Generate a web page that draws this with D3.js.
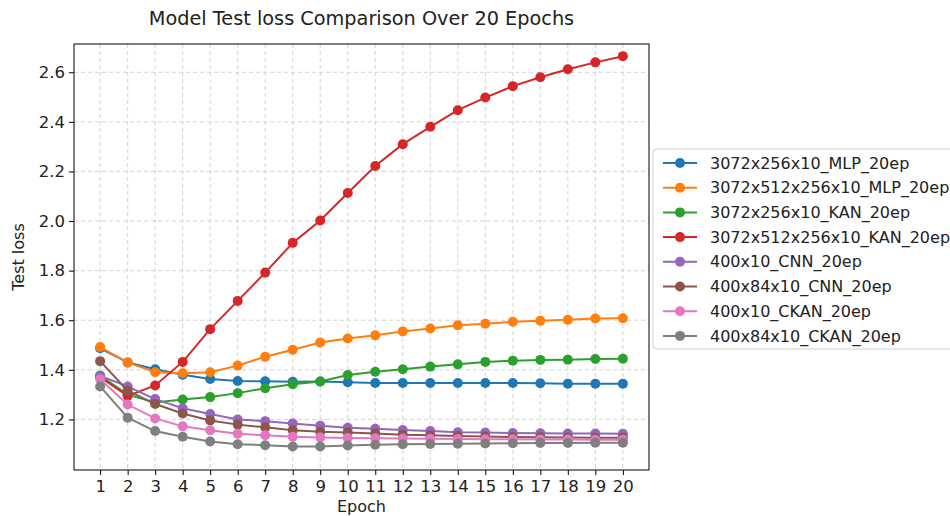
<!DOCTYPE html>
<html>
<head>
<meta charset="utf-8">
<script src="https://cdn.jsdelivr.net/npm/d3@7"></script>
<style>
  body { margin: 0; background: #fff; }
  text { font-family: "DejaVu Sans", sans-serif; fill: #222; }
</style>
</head>
<body>
<div id="plot"></div>
<script>
// epochs on the x axis
const epochs = [1, 2, 3, 4, 5, 6, 7, 8, 9, 10, 11, 12, 13, 14, 15, 16, 17, 18, 19, 20];

// test loss per model
const mlp256 = [1.487, 1.430, 1.402, 1.380, 1.363, 1.355, 1.354, 1.352, 1.353, 1.350, 1.347, 1.347, 1.347, 1.347, 1.347, 1.347, 1.346, 1.344, 1.344, 1.344];
const mlp512 = [1.492, 1.430, 1.390, 1.386, 1.390, 1.417, 1.453, 1.481, 1.510, 1.526, 1.539, 1.555, 1.567, 1.580, 1.586, 1.594, 1.598, 1.602, 1.607, 1.608];
const kan256 = [1.377, 1.300, 1.268, 1.280, 1.290, 1.306, 1.326, 1.342, 1.353, 1.379, 1.392, 1.402, 1.413, 1.422, 1.432, 1.437, 1.440, 1.441, 1.444, 1.445];
const kan512 = [1.370, 1.295, 1.337, 1.432, 1.564, 1.678, 1.792, 1.912, 2.002, 2.113, 2.222, 2.310, 2.380, 2.447, 2.498, 2.544, 2.580, 2.612, 2.640, 2.665];
const cnn400 = [1.375, 1.333, 1.282, 1.245, 1.222, 1.200, 1.193, 1.184, 1.174, 1.166, 1.162, 1.157, 1.153, 1.148, 1.147, 1.145, 1.144, 1.143, 1.143, 1.142];
const cnn84 = [1.435, 1.316, 1.262, 1.224, 1.196, 1.179, 1.168, 1.156, 1.150, 1.147, 1.143, 1.138, 1.136, 1.133, 1.131, 1.129, 1.128, 1.127, 1.126, 1.126];
const ckan400 = [1.362, 1.260, 1.204, 1.172, 1.156, 1.142, 1.136, 1.130, 1.127, 1.125, 1.124, 1.123, 1.122, 1.121, 1.120, 1.120, 1.119, 1.119, 1.118, 1.118];
const ckan84 = [1.333, 1.207, 1.153, 1.130, 1.111, 1.100, 1.096, 1.091, 1.091, 1.095, 1.098, 1.100, 1.101, 1.102, 1.103, 1.104, 1.105, 1.105, 1.106, 1.106];

const seriesNames = ["3072x256x10_MLP_20ep", "3072x512x256x10_MLP_20ep", "3072x256x10_KAN_20ep", "3072x512x256x10_KAN_20ep",
  "400x10_CNN_20ep", "400x84x10_CNN_20ep", "400x10_CKAN_20ep", "400x84x10_CKAN_20ep"];
const seriesValues = [mlp256, mlp512, kan256, kan512, cnn400, cnn84, ckan400, ckan84];
const yTicks = [1.2, 1.4, 1.6, 1.8, 2.0, 2.2, 2.4, 2.6];

const width = 950, height = 516;
const margin = {left: 74, right: 649, top: 44, bottom: 470};

const svg = d3.select("div#plot")
  .append("svg")
    .attr("width", width)
    .attr("height", height);

const x = d3.scaleLinear().domain([0.05, 20.95]).range([margin.left, margin.right]);
const y = d3.scaleLinear().domain([0.996, 2.714]).range([margin.bottom, margin.top]);

const color = d3.scaleOrdinal()
  .domain(seriesNames)
  .range(d3.schemeCategory10);

// dashed grid
svg.append("g")
  .selectAll("line")
  .data(epochs)
  .join("line")
    .attr("x1", d => x(d)).attr("x2", d => x(d))
    .attr("y1", margin.top).attr("y2", margin.bottom)
    .attr("stroke", "#c8c8c8")
    .attr("stroke-dasharray", "4,3")
    .attr("stroke-width", 0.8);

svg.append("g")
  .selectAll("line")
  .data(yTicks)
  .join("line")
    .attr("x1", margin.left).attr("x2", margin.right)
    .attr("y1", d => y(d)).attr("y2", d => y(d))
    .attr("stroke", "#c8c8c8")
    .attr("stroke-dasharray", "4,3")
    .attr("stroke-width", 0.8);

// axes
const xAxis = svg.append("g")
  .attr("transform", `translate(0,${margin.bottom})`)
  .call(d3.axisBottom(x).tickValues(epochs).tickSize(5).tickPadding(5).tickFormat(d3.format("d")));

const yAxis = svg.append("g")
  .attr("transform", `translate(${margin.left},0)`)
  .call(d3.axisLeft(y).tickValues(yTicks).tickSize(5).tickPadding(4).tickFormat(d3.format(".1f")));

[xAxis, yAxis].forEach(function(a) {
  a.select(".domain").remove();
  a.selectAll("text").style("font-size", "16.5px").attr("fill", "#222");
});

// frame around the plot
svg.append("rect")
  .attr("x", margin.left).attr("y", margin.top)
  .attr("width", margin.right - margin.left).attr("height", margin.bottom - margin.top)
  .attr("fill", "none")
  .attr("stroke", "#000")
  .attr("stroke-width", 1);

// lines + markers
const line = d3.line()
  .x((d, i) => x(epochs[i]))
  .y(d => y(d));

seriesValues.forEach(function(vals, k) {
  const g = svg.append("g");
  g.append("path")
    .attr("d", line(vals))
    .attr("fill", "none")
    .attr("stroke", color(seriesNames[k]))
    .attr("stroke-width", 2);
  g.selectAll("circle")
    .data(vals)
    .join("circle")
      .attr("cx", (d, i) => x(epochs[i]))
      .attr("cy", d => y(d))
      .attr("r", 5)
      .attr("fill", color(seriesNames[k]));
});

// titles
svg.append("text")
  .attr("x", (margin.left + margin.right) / 2).attr("y", 25)
  .attr("text-anchor", "middle")
  .style("font-size", "19.3px")
  .text("Model Test loss Comparison Over 20 Epochs");

svg.append("text")
  .attr("x", (margin.left + margin.right) / 2).attr("y", 512)
  .attr("text-anchor", "middle")
  .style("font-size", "16px")
  .text("Epoch");

svg.append("text")
  .attr("transform", `translate(24,${(margin.top + margin.bottom) / 2}) rotate(-90)`)
  .attr("text-anchor", "middle")
  .style("font-size", "16px")
  .text("Test loss");

// legend
const legend = svg.append("g");
legend.append("rect")
  .attr("x", 653).attr("y", 149)
  .attr("width", 320).attr("height", 200)
  .attr("rx", 4)
  .attr("fill", "#fff")
  .attr("fill-opacity", 0.8)
  .attr("stroke", "#d0d0d0");

const items = legend.selectAll("g.item")
  .data(seriesNames)
  .join("g")
    .attr("class", "item")
    .attr("transform", (d, i) => `translate(0,${163 + i * 24.7})`);

items.append("line")
  .attr("x1", 663).attr("x2", 697)
  .attr("stroke", d => color(d))
  .attr("stroke-width", 2);

items.append("circle")
  .attr("cx", 680).attr("r", 5)
  .attr("fill", d => color(d));

items.append("text")
  .attr("x", 710)
  .attr("dy", "0.35em")
  .style("font-size", "16px")
  .text(d => d);
</script>
</body>
</html>
